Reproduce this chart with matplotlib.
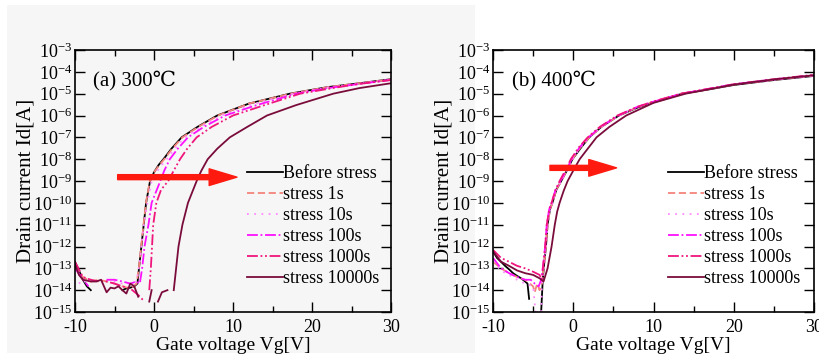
import numpy as np
import matplotlib

matplotlib.use("Agg")
import matplotlib.pyplot as plt
from matplotlib.patches import Rectangle, FancyArrowPatch
from matplotlib.ticker import LogLocator, NullLocator, MultipleLocator

plt.rcParams["font.family"] = ["Liberation Serif", "DejaVu Serif", "DejaVu Sans"]
plt.rcParams["mathtext.fontset"] = "custom"
plt.rcParams["mathtext.rm"] = "Liberation Serif"
plt.rcParams["mathtext.it"] = "Liberation Serif:italic"
plt.rcParams["axes.unicode_minus"] = False

nan = np.nan
labels = ["Before stress", "stress 1s", "stress 10s", "stress 100s", "stress 1000s", "stress 10000s"]
colors = ["#000000", "#f4857c", "#ff8cff", "#ff10ff", "#f0157c", "#7a0c3c"]
styles = ["-", (0, (4, 2)), (0, (1, 3)), (0, (6, 1.5, 1, 1.5)), (0, (6, 1.5, 1, 1.5, 1, 1.5)), "-"]

# (a) 300C
a_before_v = [-10, -9.5, -9, -8.5, -8, nan, -4, -3.5, -3, -2.5, -2.1, -1.9, -1.6, -1.3, -1.0, -0.5, 0, 0.6, 1.2, 2.2, 3.5, 5.5, 8, 12, 17.2, 22, 26, 30]
a_before_i = [2e-13, 8e-14, 3e-14, 1.5e-14, 1e-14, nan, 1e-14, 1.2e-14, 1.3e-14, 1.5e-14, 2e-14, 1e-13, 1e-12, 1e-11, 1e-10, 1e-9, 2.5e-9, 5.5e-9, 1e-8, 3e-8, 1e-7, 3e-7, 1e-6, 3.5e-6, 1e-5, 2e-5, 3e-5, 4.6e-5]
a_1s_v = [-10, -9, -8, -7, -6, -5, -4, -3, -2.2, -1.9, -1.6, -1.3, -1.0, -0.5, 0.1, 0.7, 1.3, 2.3, 3.6, 5.6, 8.1, 12, 17.3, 22, 26, 30]
a_1s_i = [1.2e-13, 4e-14, 2.5e-14, 3e-14, 2.5e-14, 2e-14, 1.5e-14, 1.2e-14, 2e-14, 1.2e-13, 1.2e-12, 1.2e-11, 1.1e-10, 1.1e-9, 2.8e-9, 5.5e-9, 1e-8, 3e-8, 1e-7, 3e-7, 1e-6, 3.5e-6, 1e-5, 2e-5, 3e-5, 4.5e-5]
a_10s_v = [-9.5, -9, -8.5, nan, -6, -5, -4, -3, -2.2, -1.8, -1.5, -1.2, -0.8, -0.3, 0.3, 0.9, 1.6, 2.6, 3.9, 5.9, 8.5, 12.5, 17.7, 22, 26, 30]
a_10s_i = [2e-14, 3e-14, 2e-14, nan, 3e-14, 2.5e-14, 2e-14, 2e-14, 2.5e-14, 2e-13, 2e-12, 1.5e-11, 1.2e-10, 1e-9, 2.5e-9, 5e-9, 1e-8, 3e-8, 1e-7, 3e-7, 1e-6, 3.3e-6, 1e-5, 1.9e-5, 2.9e-5, 4.4e-5]
a_100s_v = [-10, -9.2, -8.3, nan, -6, -5, -4, -3, -2.2, -1.8, -1.5, -1.2, -0.7, -0.3, 0.8, 1.3, 2.0, 3.0, 4.3, 6.3, 9, 13, 18, 22, 26, 30]
a_100s_i = [1e-13, 4e-14, 1.5e-14, nan, 3e-14, 3e-14, 2.5e-14, 2e-14, 2.5e-14, 2e-14, 1e-13, 1e-12, 1e-11, 1e-10, 1e-9, 3e-9, 1e-8, 3e-8, 1e-7, 3e-7, 1e-6, 3e-6, 1e-5, 1.8e-5, 2.8e-5, 4.3e-5]
a_1000s_v = [-10, -9, -8, -7, -6, -5, -4, -3, -2, -1.2, nan, -0.6, -0.4, -0.1, 0.3, 0.9, 1.8, 2.5, 3.3, 4.2, 5.4, 7.3, 10, 14, 18.5, 23, 26, 30]
a_1000s_i = [2e-13, 4e-14, 3e-14, 2.5e-14, 2.5e-14, 2e-14, 1.5e-14, 1.2e-14, 6e-15, 3e-15, nan, 1e-14, 1e-13, 1e-11, 1e-10, 4e-10, 1e-9, 3e-9, 1e-8, 3e-8, 1e-7, 3e-7, 1e-6, 3e-6, 1e-5, 1.9e-5, 2.8e-5, 4.2e-5]
a_10000s_v = [-10, -9.5, -9, -8, -7.3, -6.7, -6, -5.5, -5, -4.5, -4, -3.5, -3, -2.5, -2, nan, -0.6, -0.3, nan, 0.5, 1.0, 1.7, nan,
              2.5, 2.8, 3.1, 3.6, 4.3, 5.4, 6.0, 6.8, 8.0, 9.6, 11.8, 14.3, 18, 22.7, 26, 30]
a_10000s_i = [1.5e-13, 5e-14, 3e-14, 2.5e-14, 2.5e-14, 3e-14, 8e-15, 1.3e-14, 1.2e-14, 1.5e-14, 1e-14, 7e-15, 2e-14, 1.5e-14, 5e-15, nan, 3e-15, 1e-14, nan, 3e-15, 8e-15, 1e-14, nan,
              1e-14, 1e-13, 1e-12, 1e-11, 1e-10, 1e-9, 3e-9, 1e-8, 3e-8, 1e-7, 3e-7, 1e-6, 3e-6, 1e-5, 1.8e-5, 3e-5]

# (b) 400C
b_before_v = [-10, -9.5, -9, -8.5, -8, -7.5, -7, -6.5, -6, -5.7, -5.5, nan, -4.0, -3.8, -3.6, -3.4, -3.2, -2.9, -2.6, -2.1, -1.5, -0.8, -0.1, 1, 2, 3.5, 5.7, 8, 10, 13.6, 17, 20, 25, 30]
b_before_i = [6e-13, 3e-13, 2e-13, 1.3e-13, 9e-14, 6e-14, 4.5e-14, 3.5e-14, 2.5e-14, 2e-14, 4e-15, nan, 1e-15, 3e-14, 2e-13, 1e-12, 1e-11, 5e-11, 1e-10, 4e-10, 1e-9, 3e-9, 1e-8, 3.5e-8, 1e-7, 3e-7, 1e-6, 2.3e-6, 4e-6, 1e-5, 1.6e-5, 2.5e-5, 4.2e-5, 6.5e-5]
b_1s_v = [-10, -9, -8, -7, -6, -5, -4.8, -4.5, -4.2, -3.9, -3.6, -3.4, -3.2, -2.9, -2.6, -2.1, -1.5, -0.8, -0.1, 0.9, 2, 3.5, 5.7, 8, 10, 13.6, 17, 20, 25, 30]
b_1s_i = [2e-13, 1e-13, 6e-14, 4e-14, 3e-14, 1.5e-14, 8e-15, 2e-14, 1e-14, 2e-14, 2e-13, 1e-12, 1e-11, 5e-11, 1e-10, 4e-10, 1e-9, 3e-9, 1e-8, 3.5e-8, 1e-7, 3e-7, 1e-6, 2.4e-6, 4.2e-6, 1e-5, 1.65e-5, 2.6e-5, 4.3e-5, 6.7e-5]
b_10s_v = [-10, -9, -8, -7, -6, -5, -4.7, nan, -4.0, -3.9, -3.6, -3.4, -3.2, -2.9, -2.6, -2.1, -1.5, -0.8, -0.1, 0.9, 2, 3.5, 5.7, 8, 10, 13.6, 17, 20, 25, 30]
b_10s_i = [2e-13, 8e-14, 5e-14, 3e-14, 2e-14, 1.5e-14, 1e-15, nan, 1e-15, 2e-14, 2e-13, 1e-12, 1e-11, 5e-11, 1e-10, 4e-10, 1e-9, 3e-9, 1e-8, 3.5e-8, 1e-7, 3e-7, 1e-6, 2.4e-6, 4.2e-6, 1e-5, 1.65e-5, 2.6e-5, 4.3e-5, 6.7e-5]
b_100s_v = [-10, -9, -8, -7, -6, -5.3, -4.8, -4.3, -4.0, -3.7, -3.5, -3.3, -3.0, -2.7, -2.2, -1.6, -0.9, -0.2, 0.8, 1.9, 3.4, 5.6, 8, 10, 13.5, 17, 20, 25, 30]
b_100s_i = [3e-13, 1e-13, 6e-14, 4e-14, 3e-14, 3e-14, 2e-14, 1.5e-14, 3e-14, 2e-13, 1e-12, 1e-11, 5e-11, 1e-10, 4e-10, 1e-9, 3e-9, 1e-8, 3.5e-8, 1e-7, 3e-7, 1e-6, 2.5e-6, 4.3e-6, 1e-5, 1.7e-5, 2.7e-5, 4.5e-5, 7e-5]
b_1000s_v = [-10, -9, -8, -7, -6, -5, -4.2, -3.9, -3.7, -3.5, -3.3, -3.0, -2.7, -2.2, -1.7, -1.0, -0.3, 0.7, 1.8, 3.3, 5.5, 8, 10, 13.4, 17, 20, 25, 30]
b_1000s_i = [7e-13, 3e-13, 2e-13, 1.3e-13, 1e-13, 7e-14, 5e-14, 3e-14, 2e-13, 1e-12, 1e-11, 5e-11, 1e-10, 4e-10, 1e-9, 3e-9, 1e-8, 3.5e-8, 1e-7, 3e-7, 1e-6, 2.5e-6, 4.4e-6, 1e-5, 1.7e-5, 2.7e-5, 4.6e-5, 7.3e-5]
b_10000s_v = [-10, -9, -8, -7, -6, -5, -4.2, -3.7, -3.2, -2.7, -2.3, -2.0, -1.7, -1.2, -0.7, 0, 0.8, 1.8, 2.9, 4.5, 6.6, 10, 14, 17, 20, 25, 30]
b_10000s_i = [6e-13, 2e-13, 1.3e-13, 8e-14, 6e-14, 5e-14, 3.5e-14, 2.5e-14, 1e-13, 1e-12, 1e-11, 4e-11, 1e-10, 3.5e-10, 1e-9, 3e-9, 1e-8, 3e-8, 1e-7, 3e-7, 1e-6, 3.8e-6, 1e-5, 1.6e-5, 2.6e-5, 4.5e-5, 7e-5]

panel_a = [(a_before_v, a_before_i), (a_1s_v, a_1s_i), (a_10s_v, a_10s_i),
           (a_100s_v, a_100s_i), (a_1000s_v, a_1000s_i), (a_10000s_v, a_10000s_i)]
panel_b = [(b_before_v, b_before_i), (b_1s_v, b_1s_i), (b_10s_v, b_10s_i),
           (b_100s_v, b_100s_i), (b_1000s_v, b_1000s_i), (b_10000s_v, b_10000s_i)]

W, H = 819, 362
fig = plt.figure(figsize=(W / 100, H / 100), dpi=100)
fig.patches.append(Rectangle((7 / W, 1 - 353 / H), 468 / W, 348 / H,
                             transform=fig.transFigure, facecolor="#f6f6f6",
                             edgecolor="none", zorder=-10))

ax_a = fig.add_axes([75 / W, 1 - 312 / H, 316 / W, 262 / H])
ax_b = fig.add_axes([493 / W, 1 - 312 / H, 321 / W, 262 / H])
ax_a.set_facecolor("#f6f6f6")
ax_b.set_facecolor("white")


def draw_panel(ax, data, title, arrow_from, arrow_to):
    for (v, i), lab, c, ls in zip(data, labels, colors, styles):
        ax.plot(v, i, color=c, linestyle=ls, lw=1.3, label=lab)
    ax.set_yscale("log")
    ax.set_xlim(-10, 30)
    ax.set_ylim(1e-15, 1e-3)
    ax.yaxis.set_major_locator(LogLocator(base=10, numticks=20))
    ax.yaxis.set_minor_locator(NullLocator())
    ax.xaxis.set_major_locator(MultipleLocator(10))
    ax.xaxis.set_minor_locator(MultipleLocator(5))
    ax.tick_params(which="both", direction="in", top=True, right=True, labelsize=13)
    ax.tick_params(axis="y", which="major", length=7, width=1, pad=2)
    ax.tick_params(axis="x", which="major", length=7, width=1, pad=5)
    ax.tick_params(axis="x", which="minor", length=4, width=1)
    for s in ax.spines.values():
        s.set_linewidth(1.2)
    ax.set_xlabel("Gate voltage Vg[V]", fontsize=14, labelpad=1)
    ax.set_ylabel("Drain current Id[A]", fontsize=15, labelpad=-2)
    ax.text(0.058, 0.885, title, transform=ax.transAxes, fontsize=15, va="center", ha="left")
    arr = FancyArrowPatch(arrow_from, arrow_to, arrowstyle="simple,head_length=20,head_width=12,tail_width=3.6",
                          color="#ff1a10", mutation_scale=1, shrinkA=0, shrinkB=0, zorder=5)
    ax.add_patch(arr)
    ax.legend(loc="upper left", bbox_to_anchor=(0.545, 0.56), frameon=False, fontsize=13,
              handlelength=2.0, handletextpad=0.0, labelspacing=0.22, borderpad=0, borderaxespad=0)


draw_panel(ax_a, panel_a, "(a) 300℃", (-4.6, 1.5e-9), (10.5, 1.5e-9))
draw_panel(ax_b, panel_b, "(b) 400℃", (-2.9, 4e-9), (5.4, 4e-9))

fig.savefig("out.png", dpi=100)
